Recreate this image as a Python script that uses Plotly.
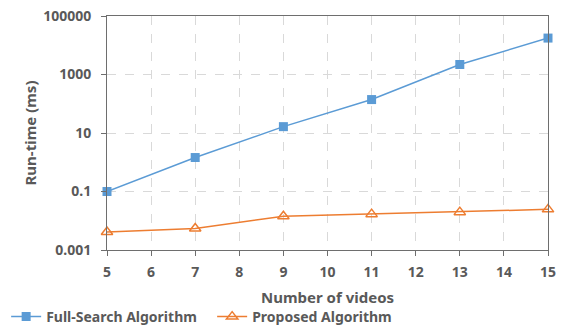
import plotly.graph_objects as go

# Number of videos processed
num_videos = [5, 7, 9, 11, 13, 15]

# Run-time in milliseconds for each method
full_search_ms = [0.1, 1.45, 16.5, 139, 2200, 17600]
proposed_ms = [0.0041, 0.0054, 0.0143, 0.0168, 0.0197, 0.0245]

# Log-axis tick labels
y_tickvals = [0.001, 0.1, 10, 1000, 100000]
y_ticktext = ["0.001", "0.1", "10", "1000", "100000"]

BLUE = "#5B9BD5"
ORANGE = "#ED7D31"
TEXT = "#595959"
FONT = "Noto Sans"

fig = go.Figure()

fig.add_trace(go.Scatter(
    x=num_videos, y=full_search_ms, name="Full-Search Algorithm",
    mode="lines+markers", cliponaxis=False,
    line=dict(color=BLUE, width=1.5),
    marker=dict(symbol="square", size=9, color=BLUE),
))
fig.add_trace(go.Scatter(
    x=num_videos, y=proposed_ms, name="Proposed Algorithm",
    mode="lines+markers", cliponaxis=False,
    line=dict(color=ORANGE, width=1.5),
    marker=dict(symbol="triangle-up-open", size=10, color=ORANGE,
                line=dict(color=ORANGE, width=1.5)),
))

fig.update_layout(
    width=563, height=329,
    margin=dict(l=107, r=15, t=16, b=79, autoexpand=False),
    paper_bgcolor="white", plot_bgcolor="white",
    font=dict(family=FONT, color=TEXT),
    showlegend=True,
    legend=dict(
        orientation="h", x=-0.2287, xanchor="left", y=-0.218, yanchor="top",
        font=dict(family=FONT, size=14, color=TEXT, weight="bold"),
        entrywidth=161, entrywidthmode="pixels",
        bgcolor="rgba(0,0,0,0)",
    ),
    xaxis=dict(
        range=[5, 15], dtick=1, tick0=5, automargin=False,
        showgrid=True, gridcolor="#D9D9D9", griddash="dash", gridwidth=1,
        showline=True, linecolor="#6E6E6E", linewidth=1, mirror=True,
        ticks="outside", ticklen=5, tickcolor="#6E6E6E",
        ticklabelstandoff=4,
        tickfont=dict(family=FONT, size=14, color=TEXT, weight="bold"),
        zeroline=False,
        title=dict(text="Number of videos", standoff=12,
                   font=dict(family=FONT, size=15, color=TEXT, weight="bold")),
    ),
    yaxis=dict(
        type="log", range=[-3, 5], automargin=False,
        tickvals=y_tickvals, ticktext=y_ticktext,
        showgrid=True, gridcolor="#D9D9D9", griddash="dash", gridwidth=1,
        showline=True, linecolor="#6E6E6E", linewidth=1, mirror=True,
        ticks="outside", ticklen=5, tickcolor="#6E6E6E",
        ticklabelstandoff=7,
        tickfont=dict(family=FONT, size=14, color=TEXT, weight="bold"),
        zeroline=False,
        title=dict(text="Run-time (ms)", standoff=2,
                   font=dict(family=FONT, size=15, color=TEXT, weight="bold")),
    ),
)

fig.write_html("out.html")
